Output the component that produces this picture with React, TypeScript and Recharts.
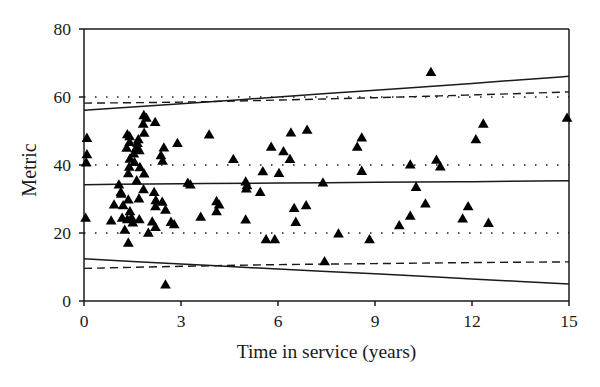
import React from 'react';
import {
  ComposedChart,
  Scatter,
  Line,
  XAxis,
  YAxis,
  ZAxis,
  ReferenceLine,
} from 'recharts';

// observed points: years in service vs metric
const serviceYears = [
  0.09, 0.09, 0.07, 1.85, 1.93, 2.2, 1.83, 1.86, 1.34, 1.41, 1.41, 1.68, 1.65, 1.32, 1.6, 1.71,
  2.47, 2.89, 1.54, 1.42, 2.38, 2.43, 1.56, 1.4, 1.73, 1.37, 1.86, 1.63, 1.08, 1.14, 1.84, 2.17,
  1.7, 1.37, 2.22, 0.93, 1.21, 2.42, 1.15, 2.21, 2.52, 1.42, 0.05, 0.84, 1.18, 1.34, 1.47, 1.51,
  1.71, 2.11, 2.21, 2.69, 2.79, 1.26, 1.99, 1.37, 2.52, 3.21, 3.29, 3.87, 6.4, 6.9, 8.59, 8.45,
  5.79, 6.17, 6.37, 4.62, 5.53, 6.03, 8.59, 5.0, 5.04, 5.02, 5.45, 7.39, 4.1, 4.18, 4.1, 6.5,
  6.87, 3.61, 5.0, 6.55, 5.63, 5.9, 7.87, 8.83, 7.44, 10.73, 12.35, 12.12, 14.94, 10.09, 10.9,
  11.02, 10.27, 10.56, 10.09, 9.75, 11.88, 11.71, 12.51,
];
const metricValues = [
  47.7, 42.9, 40.5, 54.4, 53.6, 52.4, 51.9, 49.2, 48.8, 48.2, 46.5, 47.3, 46.2, 44.8, 44.6, 44.1,
  44.9, 46.2, 43.1, 41.6, 42.6, 41.0, 40.6, 39.2, 39.1, 37.3, 37.2, 35.2, 34.0, 31.8, 32.6, 31.8,
  29.9, 29.6, 29.4, 28.1, 27.9, 28.9, 31.3, 27.6, 26.6, 26.1, 24.2, 23.4, 24.2, 23.8, 24.3, 22.8,
  23.8, 23.1, 21.5, 23.0, 22.3, 20.7, 19.8, 16.9, 4.6, 34.5, 34.0, 48.7, 49.3, 50.1, 47.8, 45.1,
  45.1, 43.8, 41.5, 41.5, 37.9, 37.4, 38.0, 34.9, 33.8, 32.8, 31.8, 34.6, 29.1, 28.1, 26.1, 27.1,
  27.9, 24.5, 23.7, 23.0, 17.9, 17.9, 19.6, 17.9, 11.4, 67.1, 51.9, 47.3, 53.6, 39.9, 41.3,
  39.3, 33.3, 28.4, 24.8, 22.0, 27.6, 24.0, 22.7,
];

// fitted curves
const curveYears = [0, 3, 6, 9, 12, 15];
const centerSolid = [34.2, 34.5, 34.7, 34.9, 35.1, 35.4];
const upperSolid = [56.1, 58.0, 60.0, 62.0, 64.0, 66.1];
const lowerSolid = [12.4, 10.9, 9.4, 8.0, 6.5, 5.0];
const upperDashed = [58.2, 58.5, 59.1, 59.8, 60.6, 61.5];
const lowerDashed = [9.6, 10.2, 10.7, 11.0, 11.3, 11.5];

const xTicks = [0, 3, 6, 9, 12, 15];
const yTicks = [0, 20, 40, 60, 80];
const dottedLevels = [20, 40, 60];

const points = serviceYears.map((x, i) => ({ x, y: metricValues[i] }));
const toCurve = (vals: number[]) => curveYears.map((x, i) => ({ x, y: vals[i] }));

const font = 'Liberation Serif, Times New Roman, serif';
const ink = '#1a1a1a';
const tickStyle = { fill: ink, fontSize: 17.5, fontFamily: font };

// rotated y label, sitting a little below the plot's middle like the original
const MetricLabel = (props: any) => {
  const vb = props.viewBox || {};
  const cx = (vb.x || 0) + 29;
  const cy = (vb.y || 0) + (vb.height || 0) / 2 + 5;
  return (
    <text
      x={cx}
      y={cy}
      transform={`rotate(-90, ${cx}, ${cy})`}
      textAnchor="middle"
      dominantBaseline="central"
      fill={ink}
      fontSize={20}
      fontFamily={font}
    >
      Metric
    </text>
  );
};

export default function App() {
  const solid = [centerSolid, upperSolid, lowerSolid];
  const dashed = [upperDashed, lowerDashed];
  return (
    <div style={{ position: 'absolute', left: 0, top: 0, width: 600, height: 387, background: '#fff' }}>
      <ComposedChart width={600} height={387} margin={{ top: 29, right: 31, bottom: 0, left: 0 }}>
        <XAxis
          type="number"
          dataKey="x"
          domain={[0, 15]}
          ticks={xTicks}
          height={86}
          tick={tickStyle}
          tickSize={5}
          tickMargin={9}
          axisLine={{ stroke: ink, strokeWidth: 1.5 }}
          tickLine={{ stroke: ink, strokeWidth: 1.5 }}
          label={{
            value: 'Time in service (years)',
            position: 'insideBottom',
            offset: 29,
            style: { fill: ink, fontSize: 19.5, fontFamily: font },
          }}
        />
        <YAxis
          type="number"
          dataKey="y"
          domain={[0, 80]}
          ticks={yTicks}
          width={84}
          tick={tickStyle}
          tickSize={5}
          tickMargin={8}
          axisLine={{ stroke: ink, strokeWidth: 1.5 }}
          tickLine={{ stroke: ink, strokeWidth: 1.5 }}
          label={{ value: 'Metric', content: MetricLabel }}
        />
        <ZAxis type="number" range={[50, 50]} />
        {dottedLevels.map((v) => (
          <ReferenceLine key={v} y={v} stroke={ink} strokeWidth={1.3} strokeDasharray="1.5 9.5" />
        ))}
        <ReferenceLine y={80} stroke={ink} strokeWidth={1.5} />
        <ReferenceLine x={15} stroke={ink} strokeWidth={1.5} />
        {solid.map((vals, i) => (
          <Line
            key={'s' + i}
            data={toCurve(vals)}
            dataKey="y"
            type="monotone"
            stroke={ink}
            strokeWidth={1.5}
            dot={false}
            activeDot={false}
            isAnimationActive={false}
          />
        ))}
        {dashed.map((vals, i) => (
          <Line
            key={'d' + i}
            data={toCurve(vals)}
            dataKey="y"
            type="monotone"
            stroke={ink}
            strokeWidth={1.4}
            strokeDasharray="8 5"
            dot={false}
            activeDot={false}
            isAnimationActive={false}
          />
        ))}
        <Scatter data={points} shape="triangle" fill="#000" isAnimationActive={false} />
      </ComposedChart>
    </div>
  );
}
